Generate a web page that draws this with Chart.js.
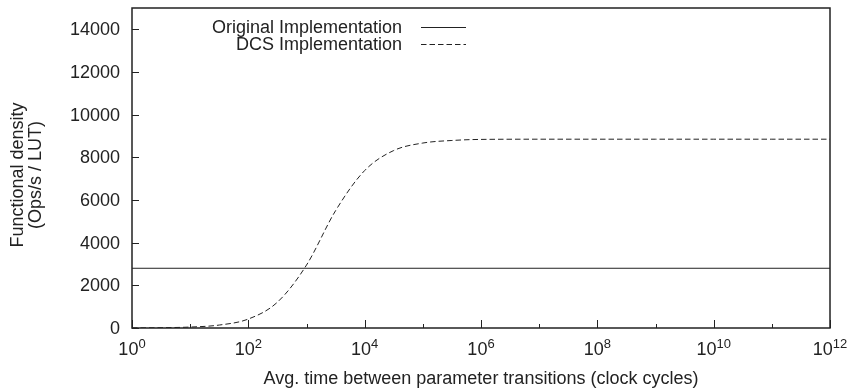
<!DOCTYPE html>
<html>
<head>
<meta charset="utf-8">
<script src="https://cdn.jsdelivr.net/npm/chart.js@4.4.1/dist/chart.umd.min.js"></script>
<style>
  html, body { margin: 0; padding: 0; background: #fff; }
  #wrap { width: 849px; height: 389px; }
</style>
</head>
<body>
<div id="wrap"><canvas id="c" width="849" height="389"></canvas></div>
<script>
// ---- Data ----
const seriesLabels = ['Original Implementation', 'DCS Implementation'];
const originalX = [1, 1e12];
const originalDensity = [2800, 2800];
const dcsX = [1, 3.16, 10, 31.6, 100, 316, 1000, 3162, 1e4, 31623, 1e5, 316228, 1e6, 1e7, 1e8, 1e9, 1e10, 1e11, 1e12];
const dcsDensity = [4, 14, 44, 138, 420, 1210, 2950, 5500, 7380, 8320, 8670, 8790, 8840, 8850, 8850, 8850, 8850, 8850, 8850];
const xTickExponents = [0, 1, 2, 3, 4, 5, 6, 7, 8, 9, 10, 11, 12];
const xLabelExponents = [0, 2, 4, 6, 8, 10, 12];
const yTickValues = [0, 2000, 4000, 6000, 8000, 10000, 12000, 14000];
const xTitle = 'Avg. time between parameter transitions (clock cycles)';
const yTitleLines = ['Functional density', '(Ops/s / LUT)'];

const FONT = '"Liberation Sans", Arial, Helvetica, sans-serif';
const INK = '#222';
const FS = 18;
const SUP = 13;

const gnuplotDecor = {
  id: 'gnuplotDecor',
  afterDraw(chart) {
    const ctx = chart.ctx;
    const a = chart.chartArea;
    const xs = chart.scales.x, ys = chart.scales.y;
    ctx.save();
    ctx.strokeStyle = INK;
    ctx.fillStyle = INK;
    // frame
    ctx.lineWidth = 1.5;
    ctx.setLineDash([]);
    ctx.strokeRect(a.left, a.top, a.right - a.left, a.bottom - a.top);
    // y ticks + labels
    ctx.lineWidth = 1;
    ctx.font = FS + 'px ' + FONT;
    ctx.textAlign = 'right';
    ctx.textBaseline = 'middle';
    yTickValues.forEach(v => {
      const py = Math.round(ys.getPixelForValue(v)) + 0.5;
      ctx.beginPath();
      ctx.moveTo(a.left, py);
      ctx.lineTo(a.left + 7, py);
      ctx.stroke();
      ctx.fillText(String(v), a.left - 12, py + 1);
    });
    // x ticks
    xTickExponents.forEach(e => {
      const px = Math.round(xs.getPixelForValue(Math.pow(10, e))) + 0.5;
      const len = xLabelExponents.includes(e) ? 8 : 4;
      ctx.beginPath();
      ctx.moveTo(px, a.bottom);
      ctx.lineTo(px, a.bottom - len);
      ctx.stroke();
    });
    // x labels with superscripts
    ctx.textBaseline = 'alphabetic';
    ctx.textAlign = 'left';
    xLabelExponents.forEach(e => {
      const px = xs.getPixelForValue(Math.pow(10, e));
      ctx.font = FS + 'px ' + FONT;
      const bw = ctx.measureText('10').width;
      ctx.font = SUP + 'px ' + FONT;
      const sw = ctx.measureText(String(e)).width;
      const x0 = px - (bw + sw) / 2;
      ctx.font = FS + 'px ' + FONT;
      ctx.fillText('10', x0, a.bottom + 27);
      ctx.font = SUP + 'px ' + FONT;
      ctx.fillText(String(e), x0 + bw, a.bottom + 20);
    });
    // x title
    ctx.font = FS + 'px ' + FONT;
    ctx.textAlign = 'center';
    ctx.fillText(xTitle, (a.left + a.right) / 2, a.bottom + 56);
    // y title
    ctx.save();
    ctx.translate(0, (a.top + a.bottom) / 2 + 7);
    ctx.rotate(-Math.PI / 2);
    ctx.textAlign = 'center';
    ctx.fillText(yTitleLines[0], 0, 23);
    ctx.fillText(yTitleLines[1], 0, 41);
    ctx.restore();
    // legend (gnuplot style)
    ctx.font = FS + 'px ' + FONT;
    ctx.textAlign = 'right';
    ctx.textBaseline = 'middle';
    chart.data.datasets.forEach((ds, i) => {
      const ly = a.top + 19 + i * 17;
      ctx.fillStyle = INK;
      ctx.fillText(ds.label, 402, ly + 1);
      ctx.strokeStyle = ds.borderColor;
      ctx.lineWidth = 1;
      ctx.setLineDash(ds.borderDash || []);
      ctx.beginPath();
      ctx.moveTo(421, Math.round(ly) + 0.5);
      ctx.lineTo(466, Math.round(ly) + 0.5);
      ctx.stroke();
    });
    ctx.restore();
  }
};

new Chart(document.getElementById('c'), {
  type: 'line',
  data: {
    datasets: [
      {
        label: seriesLabels[0],
        data: originalX.map((x, i) => ({ x, y: originalDensity[i] })),
        borderColor: INK,
        borderWidth: 1,
        pointRadius: 0,
        fill: false
      },
      {
        label: seriesLabels[1],
        data: dcsX.map((x, i) => ({ x, y: dcsDensity[i] })),
        borderColor: INK,
        borderWidth: 1,
        borderDash: [5.5, 3],
        pointRadius: 0,
        cubicInterpolationMode: 'monotone',
        fill: false
      }
    ]
  },
  options: {
    responsive: false,
    devicePixelRatio: 1,
    animation: false,
    layout: { padding: { left: 132, right: 19, top: 8, bottom: 61 } },
    plugins: { legend: { display: false }, tooltip: { enabled: false } },
    scales: {
      x: { type: 'logarithmic', min: 1, max: 1e12, display: false },
      y: { type: 'linear', min: 0, max: 15000, display: false }
    }
  },
  plugins: [gnuplotDecor]
});
</script>
</body>
</html>
